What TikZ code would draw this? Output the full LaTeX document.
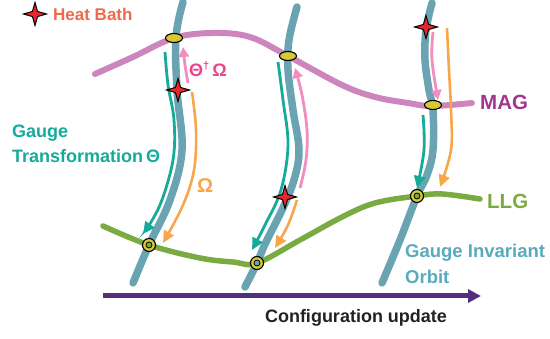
\documentclass[tikz,border=0pt]{standalone}
\usepackage{fontspec}
\setmainfont{Liberation Sans}
\usetikzlibrary{shapes.geometric, arrows.meta}

\definecolor{orbitc}{HTML}{6AA4B3}
\definecolor{magc}{HTML}{CC86BD}
\definecolor{llgc}{HTML}{7AAA42}
\definecolor{tealc}{HTML}{15AA9A}
\definecolor{orangec}{HTML}{F8A64C}
\definecolor{pinkc}{HTML}{F28DBD}
\definecolor{cfgc}{HTML}{52307E}
\definecolor{markc}{HTML}{D6C934}
\definecolor{starc}{HTML}{E8262C}
\definecolor{heattext}{HTML}{F0694A}
\definecolor{pinktext}{HTML}{E8468F}
\definecolor{magtext}{HTML}{A2368F}
\definecolor{orbittext}{HTML}{58AABE}
\definecolor{darktext}{HTML}{222222}

\begin{document}
\begin{tikzpicture}[x=1pt, y=-1pt,
  orbit/.style={line width=7.5pt, draw=orbitc, line cap=round},
  magline/.style={line width=6pt, draw=magc, line cap=round},
  llgline/.style={line width=5.5pt, draw=llgc, line cap=round},
  gaugearrow/.style={line width=2.8pt, draw=tealc, -{Triangle[length=12pt,width=11pt]}},
  omegaarrow/.style={line width=2.6pt, draw=orangec, -{Triangle[length=12pt,width=11pt]}},
  backarrow/.style={line width=2.8pt, draw=pinkc, -{Triangle[length=10pt,width=10pt]}},
  magmark/.style={ellipse, draw=black, line width=1.1pt, fill=markc, minimum width=17pt, minimum height=9pt, inner sep=0pt},
  llgmark/.style={circle, draw=black, line width=1.1pt, fill=markc, minimum size=13pt, inner sep=0pt},
  llgdot/.style={circle, draw=black, line width=0.8pt, minimum size=6pt, inner sep=0pt},
  kick/.style={star, star points=4, star point ratio=3.2, draw=black, line width=1pt, fill=starc, minimum size=23pt, inner sep=0pt},
  lbl/.style={inner sep=0pt, anchor=west}
]
\useasboundingbox (0,0) rectangle (550,339);

% gauge invariant orbits
\draw[orbit] plot[smooth, tension=0.6] coordinates {(183,2) (176,37) (177,90) (182,150) (170,200) (149,245) (133,283)};
\draw[orbit] plot[smooth, tension=0.6] coordinates {(297,7) (289,40) (288,70) (293,110) (299,150) (294,180) (282,210) (266,242) (257,263) (245,287)};
\draw[orbit] plot[smooth, tension=0.6] coordinates {(432,3) (426,30) (425,60) (429,90) (433,110) (433,150) (427,175) (417,196) (400,240) (382,283)};

% MAG and LLG manifolds
\draw[magline] plot[smooth, tension=0.6] coordinates {(95,74) (133,57) (174,38) (213,33) (250,37) (288,56) (342,85) (375,97) (408,103) (432,106) (472,103)};
\draw[llgline] plot[smooth, tension=0.6] coordinates {(103,226) (149,245) (200,258) (233,262) (257,263) (300,240) (342,217) (375,203) (417,196) (442,194) (480,199)};

% gauge transformations (teal)
\draw[gaugearrow] plot[smooth, tension=0.6] coordinates {(165,52) (168,85) (174,120) (173,160) (160,205) (143,234)};
\draw[gaugearrow] plot[smooth, tension=0.6] coordinates {(278,62) (283,100) (288,145) (281,190) (265,225) (252,250)};
\draw[gaugearrow] plot[smooth, tension=0.6] coordinates {(423,115) (424,150) (417,188)};

% Omega steps (orange)
\draw[omegaarrow] plot[smooth, tension=0.6] coordinates {(192,92) (196,130) (194,170) (183,205) (163,243)};
\draw[omegaarrow] plot[smooth, tension=0.6] coordinates {(297,200) (288,225) (275,248)};
\draw[omegaarrow] plot[smooth, tension=0.6] coordinates {(447,28) (449,70) (451,110) (451,150) (440,187)};

% back transformations (pink)
\draw[backarrow] plot[smooth, tension=0.6] coordinates {(188,83) (185,65) (183,47)};
\draw[backarrow] plot[smooth, tension=0.6] coordinates {(300,188) (306,160) (307,130) (302,95) (295,68)};
\draw[backarrow] plot[smooth, tension=0.6] coordinates {(433,32) (432,60) (438,100)};

% markers on MAG
\node[magmark] (m1) at (174,38) {};
\node[magmark] (m2) at (288,56) {};
\node[magmark] (m3) at (433,105) {};

% markers on LLG
\node[llgmark] (l1) at (149,245) {};
\node[llgdot, fill=llgc] (d1) at (l1) {};
\node[llgmark] (l2) at (257,263) {};
\node[llgdot, fill=orbitc] (d2) at (l2) {};
\node[llgmark] (l3) at (417,196) {};
\node[llgdot, fill=llgc] (d3) at (l3) {};

% heat bath kicks
\node[kick] (k0) at (35,14) {};
\node[kick] (k1) at (178,90) {};
\node[kick] (k2) at (285,197) {};
\node[kick] (k3) at (426,27) {};

% labels
\node[lbl, text=heattext, font=\bfseries\fontsize{17}{20}\selectfont] (heat) at (53,14) {Heat Bath};
\node[lbl, text=pinktext, font=\bfseries\fontsize{18}{20}\selectfont] (thetaomega) at (189,69) {Θ\raisebox{0.42em}{\fontsize{11}{11}\selectfont †}\,Ω};
\node[lbl, text=tealc, font=\bfseries\fontsize{18}{21}\selectfont] (gauge1) at (12,133) {Gauge};
\node[lbl, text=tealc, font=\bfseries\fontsize{18}{21}\selectfont] (gauge2) at (12,156) {Transformation\,Θ};
\node[lbl, text=orangec, font=\bfseries\fontsize{20}{22}\selectfont] (omega) at (197,186) {Ω};
\node[lbl, text=magtext, font=\bfseries\fontsize{20.5}{23}\selectfont] (mag) at (480,102) {MAG};
\node[lbl, text=llgc, font=\bfseries\fontsize{20.5}{23}\selectfont] (llg) at (487,201) {LLG};
\node[lbl, text=orbittext, font=\bfseries\fontsize{18.5}{21}\selectfont] (gio1) at (405,253) {Gauge Invariant};
\node[lbl, text=orbittext, font=\bfseries\fontsize{18.5}{21}\selectfont] (gio2) at (405,277) {Orbit};

% configuration update axis
\coordinate (cfgstart) at (103,296);
\coordinate (cfgend) at (481,296);
\draw[line width=5pt, draw=cfgc, -{Triangle[length=13pt,width=13pt]}] (cfgstart) -- (cfgend);
\node[text=darktext, font=\bfseries\fontsize{18}{21}\selectfont, inner sep=0pt] (cfg) at (356,318) {Configuration update};
\end{tikzpicture}
\end{document}
